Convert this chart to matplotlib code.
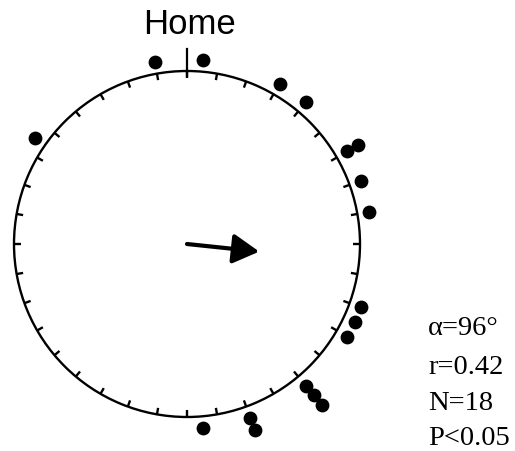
import numpy as np
import matplotlib
matplotlib.use("Agg")
import matplotlib.pyplot as plt

# bearings of individual animals (degrees, clockwise from home direction)
bearings = [350, 5, 30, 40, 60, 60, 70, 80, 110, 115, 120, 140, 140, 140, 160, 160, 175, 305]
tick_deg = np.arange(0, 360, 10)
mean_dir = 96      # alpha
mean_len = 0.42    # r
stats_lines = ["\u03b1=96\u00b0", "r=0.42", "N=18", "P<0.05"]
stats_baselines = [335, 374, 410, 445]  # px from top

W, H = 515, 451
fig = plt.figure(figsize=(W / 100, H / 100), dpi=100)
fig.patch.set_facecolor("white")

# circle centre (187, 244) px, radius 173 px
cx, cy, R = 187, 244, 173
ax = fig.add_axes([(cx - R) / W, (H - cy - R) / H, 2 * R / W, 2 * R / H], projection="polar")
ax.set_theta_zero_location("N")
ax.set_theta_direction(-1)
ax.set_ylim(0, 1)
ax.set_yticks([])
ax.set_xticks([])
ax.grid(False)
ax.spines["polar"].set_linewidth(1.7)
ax.set_facecolor("none")

# inward ticks every 10 degrees, longer one marking home
ax.vlines(np.deg2rad(tick_deg), 0.962, 1.0, color="black", lw=1.7)
ax.plot([0, 0], [0.97, 1.13], color="black", lw=1.6, clip_on=False)

# stack repeated bearings outward
theta, rad = [], []
seen = {}
for b in bearings:
    k = seen.get(b, 0)
    seen[b] = k + 1
    theta.append(np.deg2rad(b))
    rad.append(1.07 + 0.072 * k)
ax.scatter(theta, rad, s=80, color="black", clip_on=False, zorder=3)

# mean vector
ax.annotate("", xy=(np.deg2rad(mean_dir), mean_len), xytext=(0, 0),
            arrowprops=dict(arrowstyle="-|>,head_length=0.8,head_width=0.45",
                            mutation_scale=20, lw=3, color="black",
                            shrinkA=0, shrinkB=0))

fig.text(190 / W, 1 - 24 / H, "Home", ha="center", va="center",
         fontsize=25, family="Liberation Sans")

for line, yb in zip(stats_lines, stats_baselines):
    fig.text(428 / W, 1 - yb / H, line, ha="left", va="baseline",
             fontsize=20.5, family="Liberation Serif")

fig.savefig("out.png", dpi=100, facecolor="white")
